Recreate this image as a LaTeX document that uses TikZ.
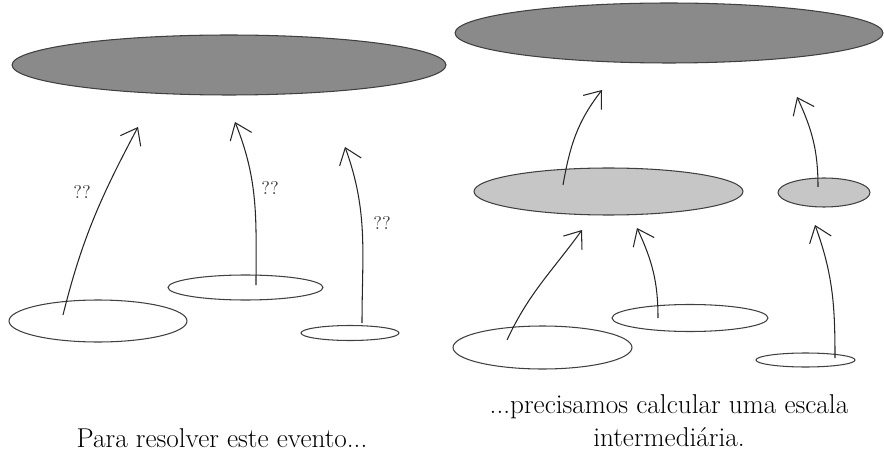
\documentclass[tikz,border=0pt]{standalone}
\usetikzlibrary{shapes.geometric,arrows.meta}
\definecolor{darkblob}{HTML}{8A8A8A}
\definecolor{lightblob}{HTML}{C6C6C6}
\begin{document}
\begin{tikzpicture}[x=0.02cm,y=0.02cm,>={Straight Barb[length=3mm,width=4.6mm]},line width=0.6pt,
        blob/.style={draw=black!75, ellipse, inner sep=0pt},
        lift/.style={->, black!85},
        ask/.style={black!75, font=\fontsize{10.5}{12}\selectfont},
        caption/.style={anchor=base, font=\fontsize{15.5}{19}\selectfont}]
    \useasboundingbox (0,0) rectangle (884,453);

    % left panel
    \node (lefttop) [blob, fill=darkblob, minimum width=8.68cm, minimum height=1.2cm] at (229,388) {};
    \node (leftA) [blob, minimum width=3.56cm, minimum height=0.84cm] at (98,132) {};
    \node (leftB) [blob, minimum width=3.1cm, minimum height=0.5cm] at (245.5,165.5) {};
    \node (leftC) [blob, minimum width=1.96cm, minimum height=0.3cm] at (350,120) {};

    \coordinate (fromA) at (63,138);   \coordinate (toA) at (138,326);
    \coordinate (fromB) at (256,168);  \coordinate (toB) at (235,331);
    \coordinate (fromC) at (362,130);  \coordinate (toC) at (345,306);

    \draw[lift] (fromA) to[out=76,in=-118] (toA);
    \draw[lift] (fromB) to[out=90,in=-68] (toB);
    \draw[lift] (fromC) to[out=90,in=-70] (toC);

    \node (askA) [ask] at (82,261) {??};
    \node (askB) [ask] at (270,265) {??};
    \node (askC) [ask] at (382,230) {??};

    % right panel
    \node (righttop) [blob, fill=darkblob, minimum width=8.56cm, minimum height=1.2cm] at (669,420) {};
    \node (mid) [blob, fill=lightblob, minimum width=5.38cm, minimum height=0.94cm] at (608.5,261.5) {};
    \node (small) [blob, fill=lightblob, minimum width=1.84cm, minimum height=0.58cm] at (824,260.5) {};
    \node (rightA) [blob, minimum width=3.58cm, minimum height=0.86cm] at (542.5,105.5) {};
    \node (rightB) [blob, minimum width=3.12cm, minimum height=0.54cm] at (690,135) {};
    \node (rightC) [blob, minimum width=1.98cm, minimum height=0.28cm] at (805.5,93) {};

    \coordinate (frommid) at (563,268);   \coordinate (tomid) at (602,363);
    \coordinate (fromsmall) at (818,266); \coordinate (tosmall) at (797,356);
    \coordinate (fromrA) at (507,113);    \coordinate (torA) at (582,223);
    \coordinate (fromrB) at (658,135);    \coordinate (torB) at (637,225);
    \coordinate (fromrC) at (835,95);     \coordinate (torC) at (815,228);

    \draw[lift] (frommid) to[out=80,in=-128] (tomid);
    \draw[lift] (fromsmall) to[out=90,in=-65] (tosmall);
    \draw[lift] (fromrA) to[out=65,in=-126] (torA);
    \draw[lift] (fromrB) to[out=90,in=-65] (torB);
    \draw[lift] (fromrC) to[out=90,in=-70] (torC);

    % captions
    \node (leftcap) [caption] at (222,6) {Para resolver este evento...};
    \node (rightcap1) [caption] at (669,40) {...precisamos calcular uma escala};
    \node (rightcap2) [caption] at (669,7) {intermediária.};
\end{tikzpicture}
\end{document}
